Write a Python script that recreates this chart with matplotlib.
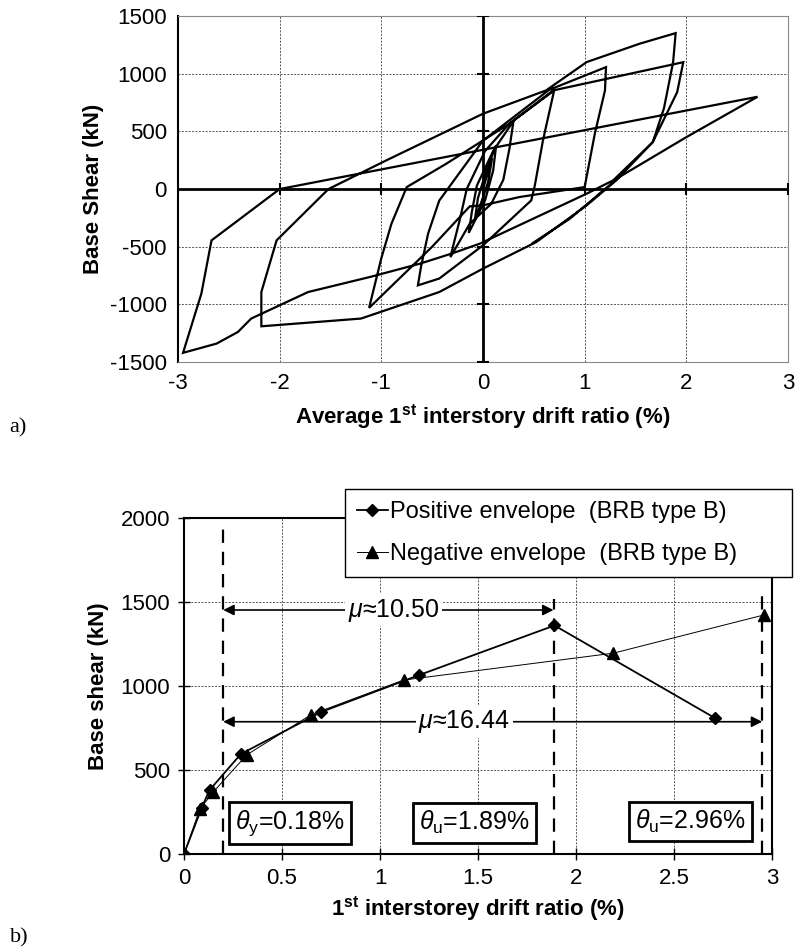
import matplotlib
matplotlib.use('Agg')
import matplotlib.pyplot as plt
import numpy as np

plt.rcParams['font.family'] = ['Liberation Sans', 'DejaVu Sans']
plt.rcParams['mathtext.fontset'] = 'custom'
plt.rcParams['mathtext.rm'] = 'Liberation Sans'
plt.rcParams['mathtext.it'] = 'Liberation Sans:italic'
plt.rcParams['mathtext.bf'] = 'Liberation Sans:bold'
plt.rcParams['axes.unicode_minus'] = False

# ---------------- data: a) hysteresis ----------------
hyst_drift = [0, 0.09, 0.05, -0.03, -0.08,
              -0.05, 0.04, 0.13, 0.10, 0.02, -0.14,
              -0.11, -0.06, 0.10, 0.30, 0.26, 0.20, 0.08, -0.13, -0.32,
              -0.28, -0.23, -0.16, 0.02, 0.26, 0.70,
              0.59, 0.51, 0.475, 0.0, -0.43, -0.64,
              -0.61, -0.54, -0.43, 0.0, 0.65, 1.21,
              1.2, 1.1, 1.0, 0.36, 0.0, -0.13, -0.5, -1.12,
              -1.0, -0.9, -0.75, -0.36, 0.26, 0.69, 1.97,
              1.91, 1.67, 1.31, 1.02, 0.525, 0.0, -0.43, -1.2, -2.18,
              -2.18, -2.03, -1.52, -0.95, 0.0, 0.62, 1.02, 1.54, 1.895,
              1.87, 1.78, 1.67, 1.28, 1.02, -0.03, -0.31, -0.62, -1.11, -1.72, -2.28, -2.41, -2.62, -2.95,
              -2.77, -2.67, -2.0, 2.7,
              2.0, 1.34, 0.85, 0.49]
hyst_shear = [0, 270, 60, -150, -270,
              -80, 180, 380, 160, -100, -380,
              -200, 30, 330, 590, 350, 80, -130, -300, -590,
              -446, -273, 0, 330, 567, 855,
              422, 32, -98, -488, -776, -835,
              -676, -387, -100, 420, 860, 1057,
              855, 480, 17, -69, -141, -150, -500, -1030,
              -600, -300, 17, 220, 567, 855, 1100,
              840, 407, 75, -141, -459, -690, -893, -1123, -1190,
              -893, -445, 0, 249, 653, 855, 1101, 1260, 1352,
              1100, 700, 407, 75, -40, -473, -560, -647, -762, -893, -1123, -1239, -1340, -1420,
              -907, -445, 0, 800,
              450, 104, -260, -468]

top_xticks = [-3, -2, -1, 0, 1, 2, 3]
top_yticks = [-1500, -1000, -500, 0, 500, 1000, 1500]

# ---------------- data: b) envelopes ----------------
pos_drift = [0, 0.09, 0.13, 0.29, 0.70, 1.20, 1.89, 2.71]
pos_shear = [0, 275, 380, 595, 845, 1065, 1360, 808]
neg_drift = [0, 0.08, 0.15, 0.32, 0.65, 1.12, 2.19, 2.96]
neg_shear = [0, 265, 370, 590, 830, 1035, 1195, 1423]

limit_drifts = [0.2, 1.885, 2.95]
limit_tops = [1960, 1520, 1585]
mu_labels = [r'$\mu$≈10.50', r'$\mu$≈16.44']
mu_levels = [1452, 787]
mu_ends = [1.885, 2.95]
mu_text_x = [1.07, 1.43]
theta_labels = [r'$\theta_{\rm y}$=0.18%', r'$\theta_{\rm u}$=1.89%', r'$\theta_{\rm u}$=2.96%']
theta_x = [0.54, 1.48, 2.585]
theta_y = [185, 185, 193]

bot_xticks = [0, 0.5, 1, 1.5, 2, 2.5, 3]
bot_xticklabels = ['0', '0.5', '1', '1.5', '2', '2.5', '3']
bot_yticks = [0, 500, 1000, 1500, 2000]

FS = 16
fig = plt.figure(figsize=(7.97, 9.5), dpi=100)

# ---------------- a) ----------------
ax1 = fig.add_axes([0.2233, 0.6189, 0.7654, 0.3642])
ax1.set_xlim(-3, 3)
ax1.set_ylim(-1500, 1500)
ax1.set_xticks(top_xticks)
ax1.set_yticks(top_yticks)
ax1.tick_params(length=0, labelsize=FS, pad=8)
ax1.grid(True, color='#555555', linestyle=(0, (2, 1.5)), linewidth=0.7)
ax1.axhline(0, color='black', lw=2.0, zorder=3)
ax1.axvline(0, color='black', lw=2.0, zorder=3)
ax1.plot(top_xticks, [0]*len(top_xticks), linestyle='none', marker='|', markersize=9,
         markeredgewidth=1.5, color='black', zorder=3)
ax1.plot([0]*len(top_yticks), top_yticks, linestyle='none', marker='_', markersize=9,
         markeredgewidth=1.5, color='black', zorder=3)
ax1.plot(hyst_drift, hyst_shear, color='black', lw=1.6, zorder=4, solid_joinstyle='miter')
for s in ['top', 'right', 'bottom']:
    ax1.spines[s].set_color('#888888')
ax1.spines['left'].set_color('black')
ax1.spines['left'].set_linewidth(1.5)
ax1.set_xlabel(r'Average 1$^{\mathbf{st}}$ interstory drift ratio (%)', fontsize=FS,
               fontweight='bold', labelpad=6)
ax1.set_ylabel('Base Shear (kN)', fontsize=FS, fontweight='bold', labelpad=4)
fig.text(0.012, 0.545, 'a)', fontsize=FS, family='Liberation Serif')

# ---------------- b) ----------------
ax2 = fig.add_axes([0.2309, 0.1011, 0.7378, 0.3537])
ax2.set_xlim(0, 3)
ax2.set_ylim(0, 2000)
ax2.set_xticks(bot_xticks)
ax2.set_xticklabels(bot_xticklabels)
ax2.set_yticks(bot_yticks)
ax2.tick_params(direction='inout', length=8, width=1, labelsize=FS, pad=6)
ax2.grid(True, color='#555555', linestyle=(0, (2, 1.5)), linewidth=0.7)
for s in ax2.spines.values():
    s.set_linewidth(1.5)
    s.set_color('black')

ax2.plot(pos_drift, pos_shear, color='black', lw=1.3, marker='D', markersize=6,
         label='Positive envelope  (BRB type B)', zorder=5)
ax2.plot(neg_drift, neg_shear, color='black', lw=0.7, marker='^', markersize=9,
         label='Negative envelope  (BRB type B)', zorder=5)

for xd, yt in zip(limit_drifts, limit_tops):
    ax2.plot([xd, xd], [0, yt], color='black', lw=1.6, linestyle=(0, (6, 4)), zorder=4)

for lab, lev, xe, xt in zip(mu_labels, mu_levels, mu_ends, mu_text_x):
    ax2.annotate('', xy=(limit_drifts[0], lev), xytext=(xe, lev),
                 arrowprops=dict(arrowstyle='<|-|>', color='black', lw=1.2,
                                 mutation_scale=16, shrinkA=0, shrinkB=0), zorder=4)
    ax2.text(xt, lev, lab, fontsize=FS + 2, ha='center', va='center', zorder=6,
             bbox=dict(facecolor='white', edgecolor='none', pad=2))

for lab, xt, yt in zip(theta_labels, theta_x, theta_y):
    ax2.text(xt, yt, lab, fontsize=FS + 2, ha='center', va='center', zorder=6,
             bbox=dict(boxstyle='square,pad=0.25', facecolor='white', edgecolor='black', lw=2))

leg = ax2.legend(loc='center left', bbox_to_anchor=(0.274, 0.818, 0.76, 0.274), mode='expand',
                 fontsize=FS + 1, handlelength=1.3, handletextpad=0.1, borderpad=0.5,
                 labelspacing=0.85, fancybox=False, framealpha=1, edgecolor='black',
                 borderaxespad=0)
leg.get_frame().set_linewidth(1.0)
leg.set_zorder(10)

ax2.set_xlabel(r'1$^{\mathbf{st}}$ interstorey drift ratio (%)', fontsize=FS,
               fontweight='bold', labelpad=4)
ax2.set_ylabel('Base shear (kN)', fontsize=FS, fontweight='bold', labelpad=8)
fig.text(0.012, 0.008, 'b)', fontsize=FS, family='Liberation Serif')

fig.savefig('out.png', dpi=100)
